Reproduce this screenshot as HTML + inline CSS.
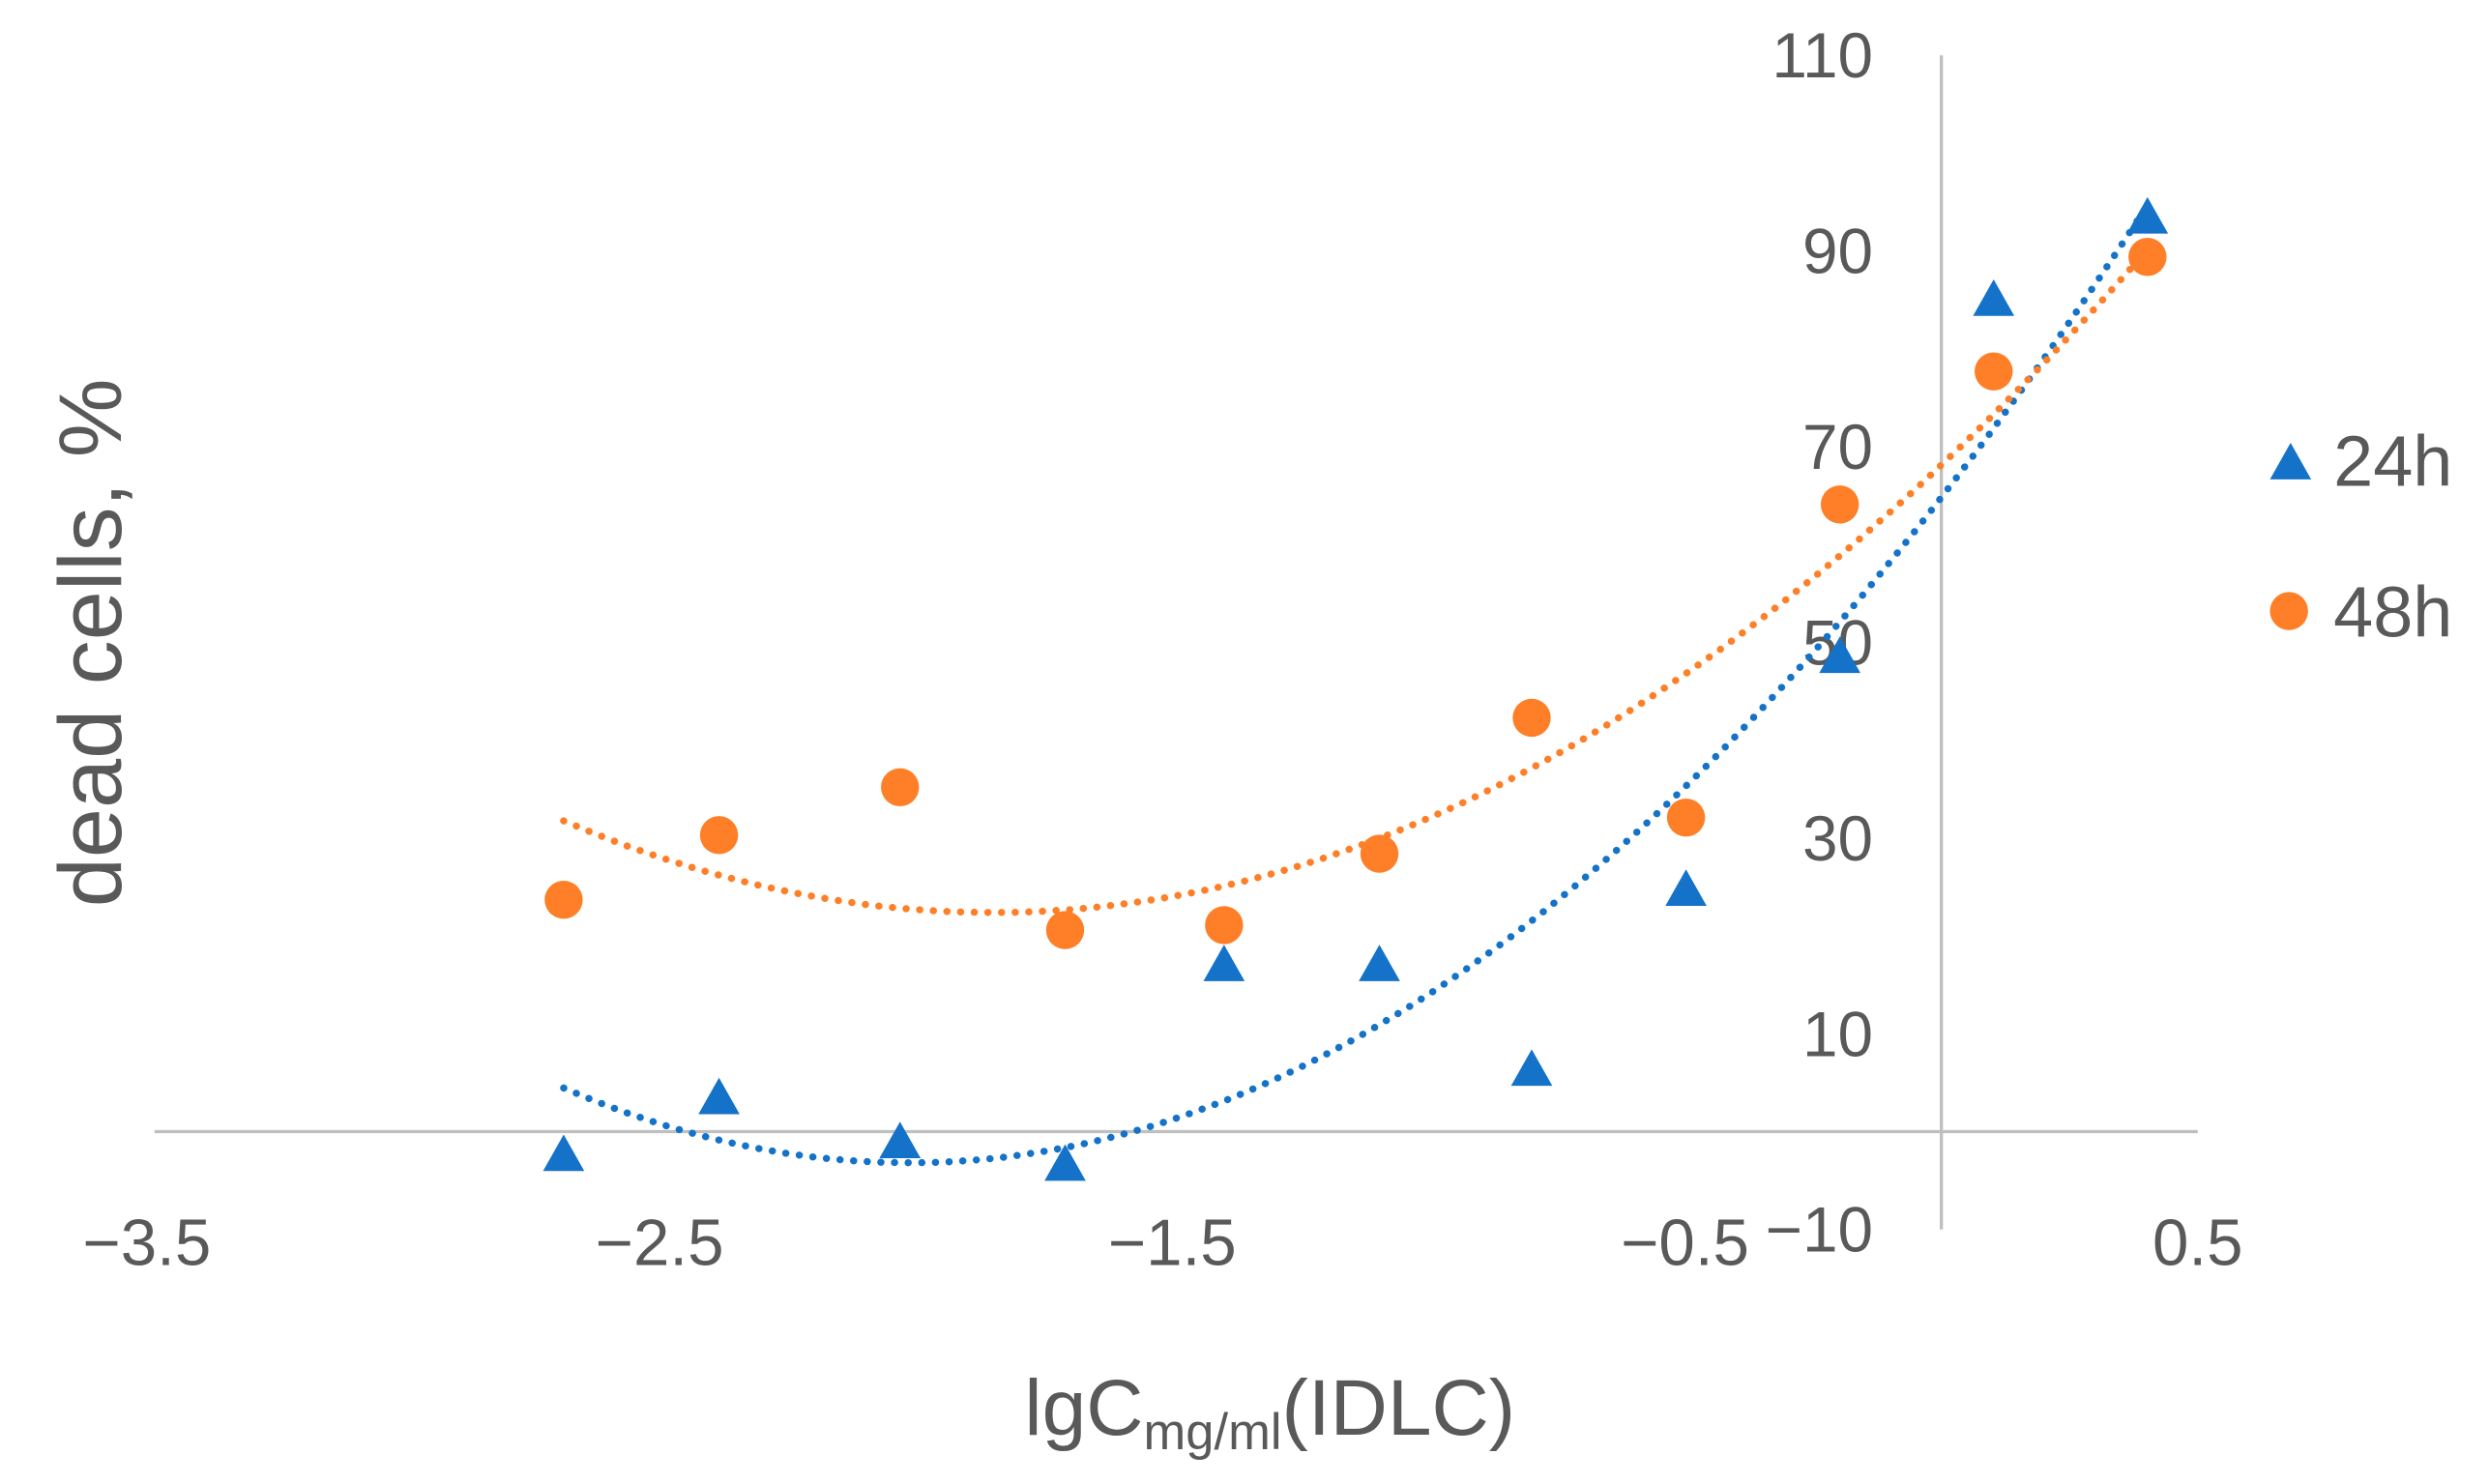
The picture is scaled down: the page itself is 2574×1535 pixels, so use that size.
<!DOCTYPE html>
<html><head><meta charset="utf-8"><style>
html,body{margin:0;padding:0;background:#fff}
svg{display:block;font-family:"Liberation Sans",sans-serif}
</style></head><body>
<svg id="chart" width="2574" height="1535" viewBox="0 0 1568 935" xmlns="http://www.w3.org/2000/svg">
<g id="axes"></g>
<g id="trends"></g>
<g id="marks"></g>
<text transform="translate(76,405) rotate(-90)" text-anchor="middle" font-size="56" fill="#595959">dead cells, %</text>
<text x="800" y="904" text-anchor="middle" font-size="50" fill="#595959">lgC<tspan font-size="32" dy="9">mg/ml</tspan><tspan dy="-9">(IDLC)</tspan></text>
<g>
<polygon points="1443,279 1456,302 1430,302" fill="#1473c8"/>
<text x="1470" y="306" font-size="45" fill="#595959">24h</text>
<circle cx="1442" cy="385" r="12" fill="#fe7f27"/>
<text x="1470" y="401" font-size="45" fill="#595959">48h</text>
</g>
</svg>
<script>
const xVals = [-2.687,-2.384,-2.031,-1.709,-1.399,-1.096,-0.799,-0.498,-0.198,0.102,0.402];
const y24 = [-2.4,3.4,-1.1,-3.4,17.0,17.0,6.3,24.7,48.5,85.0,93.4];
const y48 = [23.7,30.3,35.2,20.6,21.1,28.4,42.3,32.1,64.1,77.7,89.4];
const xTicks = [-3.5,-2.5,-1.5,-0.5,0.5];
const xTickLabels = ["\u22123.5","\u22122.5","\u22121.5","\u22120.5","0.5"];
const yTicks = [110,90,70,50,30,10,-10];
const yTickLabels = ["110","90","70","50","30","10","\u221210"];

const NS="http://www.w3.org/2000/svg";
const sx=v=>1223+v*323;
const sy=v=>713-v*6.165;
function mk(tag,attrs,parent){const e=document.createElementNS(NS,tag);for(const k in attrs)e.setAttribute(k,attrs[k]);parent.appendChild(e);return e;}
const axes=document.getElementById('axes'),trends=document.getElementById('trends'),marks=document.getElementById('marks');
let l=mk('line',{x1:sx(-3.485),x2:sx(0.5),y1:sy(0),y2:sy(0),stroke:'#bfbfbf','stroke-width':2},axes);


l=mk('line',{x1:sx(0),x2:sx(0),y1:sy(110),y2:sy(-10),stroke:'#bfbfbf','stroke-width':2},axes);


xTicks.forEach((v,i)=>{const t=mk('text',{x:sx(v),y:797,'text-anchor':'middle','font-size':41,fill:'#595959'},axes);t.textContent=xTickLabels[i];

});
yTicks.forEach((v,i)=>{const t=mk('text',{x:1180,y:sy(v)+14,'text-anchor':'end','font-size':40,fill:'#595959'},axes);t.textContent=yTickLabels[i];

});
function fit2(xs,ys){let n=xs.length,S=[0,0,0,0,0],T=[0,0,0];for(let i=0;i<n;i++){let p=1;for(let k=0;k<5;k++){S[k]+=p;if(k<3)T[k]+=p*ys[i];p*=xs[i];}}
const A=[[S[0],S[1],S[2],T[0]],[S[1],S[2],S[3],T[1]],[S[2],S[3],S[4],T[2]]];
for(let i=0;i<3;i++){for(let j=i+1;j<3;j++){const f=A[j][i]/A[i][i];for(let k=i;k<4;k++)A[j][k]-=f*A[i][k];}}
const c=[0,0,0];for(let i=2;i>=0;i--){let s=A[i][3];for(let k=i+1;k<3;k++)s-=A[i][k]*c[k];c[i]=s/A[i][i];}return c;}
function trend(ys,color,name){const c=fit2(xVals,ys);let d='';const x0=xVals[0],x1=xVals[xVals.length-1];for(let i=0;i<=100;i++){const x=x0+(x1-x0)*i/100;const y=c[0]+c[1]*x+c[2]*x*x;d+=(i?'L':'M')+sx(x).toFixed(1)+','+sy(y).toFixed(1);}
const p=mk('path',{d:d,fill:'none',stroke:color,'stroke-width':4.5,'stroke-dasharray':'0.1 8.5','stroke-linecap':'round'},trends);

}
trend(y24,'#1473c8','trendline-24h');
trend(y48,'#fe7f27','trendline-48h');
xVals.forEach((x,i)=>{const cx=sx(x),cy=sy(y24[i]);const p=mk('polygon',{points:`${cx},${cy-13} ${cx+13},${cy+10} ${cx-13},${cy+10}`,fill:'#1473c8'},marks);

});
xVals.forEach((x,i)=>{const c=mk('circle',{cx:sx(x),cy:sy(y48[i]),r:12,fill:'#fe7f27'},marks);

});
</script>
</body></html>
